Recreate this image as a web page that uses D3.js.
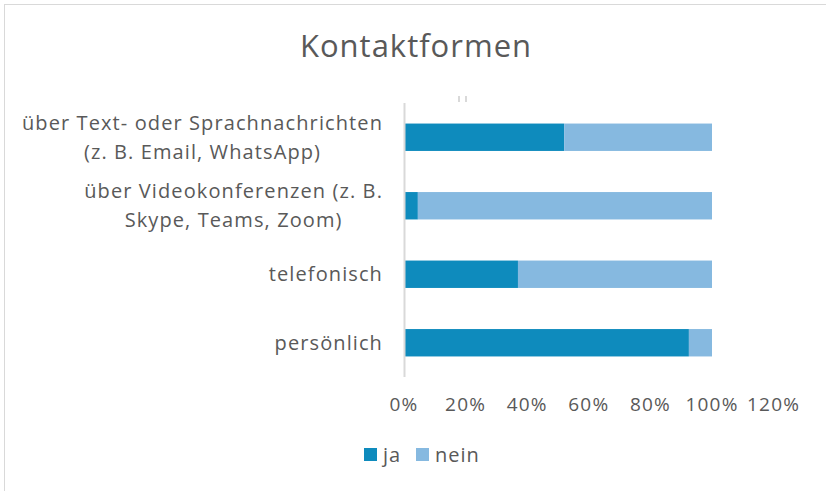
<!DOCTYPE html>
<meta charset="utf-8">
<style>
body { margin: 0; background: #fff; }
text { font-family: "Open Sans", sans-serif; fill: #595959; }
.title { font-size: 31px; letter-spacing: 1px; text-anchor: middle; }
</style>
<svg width="826" height="491"></svg>
<script src="https://d3js.org/d3.v7.min.js"></script>
<script>

var categories = [
  ["über Text- oder Sprachnachrichten", "(z. B. Email, WhatsApp)"],
  ["über Videokonferenzen (z. B.", "Skype, Teams, Zoom)"],
  ["telefonisch"],
  ["persönlich"]
];
var ja = [0.52, 0.045, 0.37, 0.925];
var nein = [0.48, 0.955, 0.63, 0.075];
var series = ["ja", "nein"];
var colors = ["#0e8bbd", "#86b9e0"];
var ticks = [0, 0.2, 0.4, 0.6, 0.8, 1.0, 1.2];

var svg = d3.select("svg");

// chart frame
svg.append("rect")
    .attr("x", 4.5).attr("y", 4.5)
    .attr("width", 840).attr("height", 500)
    .attr("fill", "none").attr("stroke", "#d9d9d9");

svg.append("text")
    .attr("class", "title")
    .attr("x", 416).attr("y", 57)
    .text("Kontaktformen");

var x = d3.scaleLinear().domain([0, 1.2]).range([404, 773.6]);
var y = d3.scaleBand().domain(d3.range(categories.length)).range([103, 377]).paddingInner(0.6).paddingOuter(0.3);

var rows = categories.map(function(c, i) { return {i: i, ja: ja[i], nein: nein[i]}; });
var stack = d3.stack().keys(series)(rows);

svg.append("g").selectAll("g")
  .data(stack)
  .enter().append("g")
    .attr("fill", function(d, k) { return colors[k]; })
  .selectAll("rect")
  .data(function(d) { return d; })
  .enter().append("rect")
    .attr("x", function(d) { return x(d[0]); })
    .attr("width", function(d) { return x(d[1]) - x(d[0]); })
    .attr("y", function(d) { return y(d.data.i); })
    .attr("height", y.bandwidth());

// vertical axis line
svg.append("line")
    .attr("x1", 404.5).attr("x2", 404.5)
    .attr("y1", 103).attr("y2", 377)
    .attr("stroke", "#d9d9d9").attr("stroke-width", 2);

// small marks above plot
svg.append("rect").attr("x", 458).attr("y", 96).attr("width", 2).attr("height", 6).attr("fill", "#d9d9d9");
svg.append("rect").attr("x", 465).attr("y", 96).attr("width", 2).attr("height", 6).attr("fill", "#d9d9d9");

// x tick labels
svg.append("g").selectAll("text")
  .data(ticks)
  .enter().append("text")
    .attr("x", function(d) { return x(d); })
    .attr("y", 411)
    .attr("text-anchor", "middle")
    .style("font-size", "19px")
    .style("letter-spacing", "1.2px")
    .text(function(d) { return Math.round(d * 100) + "%"; });

// category labels: block right-aligned, lines centered
var lineH = 29;
categories.forEach(function(lines, i) {
  var g = svg.append("g");
  var cy = y(i) + y.bandwidth() / 2;
  var t = g.selectAll("text").data(lines).enter().append("text")
      .style("font-size", "20px")
      .style("letter-spacing", "1.1px")
      .attr("text-anchor", "middle")
      .attr("dy", "0.35em")
      .attr("y", function(d, j) { return cy + (j - (lines.length - 1) / 2) * lineH; })
      .text(function(d) { return d; });
  var w = d3.max(t.nodes(), function(n) { return n.getComputedTextLength(); });
  t.attr("x", 383 - w / 2);
});

// legend
var leg = svg.append("g").selectAll("g")
  .data(series)
  .enter().append("g")
    .attr("transform", function(d, i) { return "translate(" + [364, 416][i] + ",448)"; });
leg.append("rect").attr("width", 13).attr("height", 13).attr("fill", function(d, i) { return colors[i]; });
leg.append("text").attr("x", 19).attr("y", 7).attr("dy", "0.35em")
    .style("font-size", "20px").style("letter-spacing", "1px").text(function(d) { return d; });

</script>
